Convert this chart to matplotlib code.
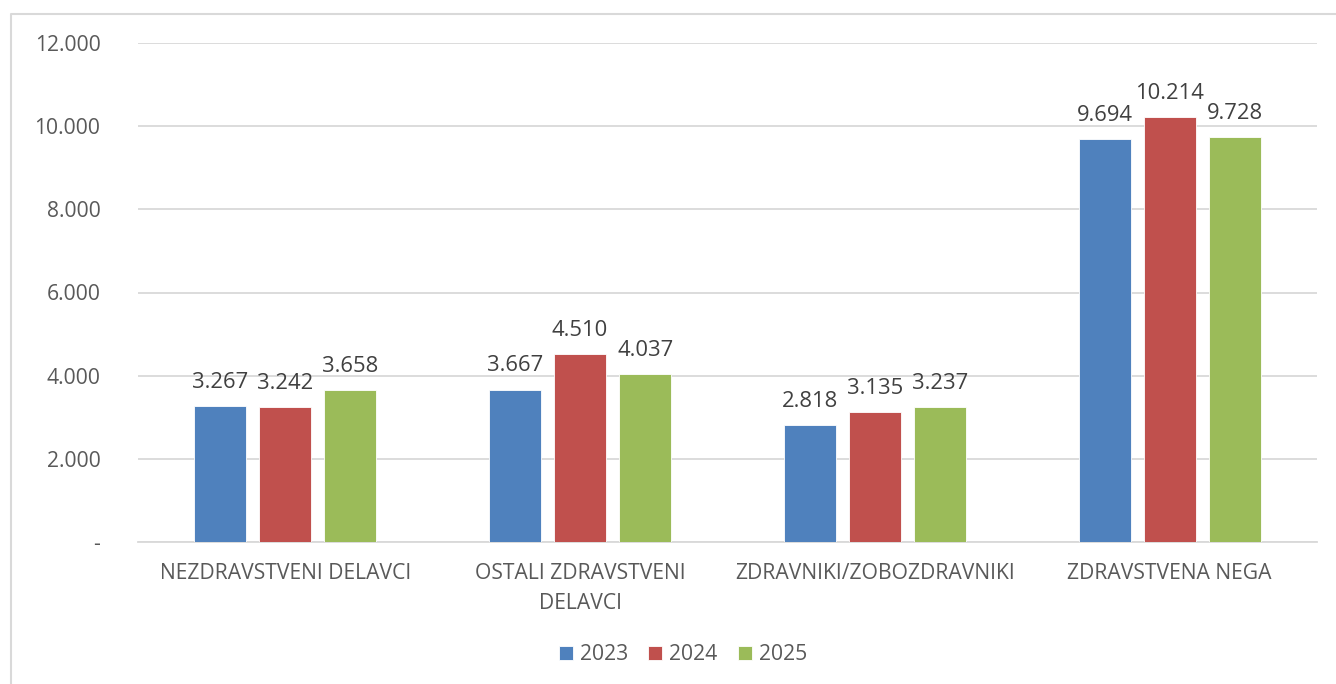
import matplotlib
matplotlib.use("Agg")
import matplotlib.pyplot as plt
from matplotlib.lines import Line2D
from matplotlib.ticker import FuncFormatter
import numpy as np

categories = ["NEZDRAVSTVENI DELAVCI", "OSTALI ZDRAVSTVENI\nDELAVCI",
              "ZDRAVNIKI/ZOBOZDRAVNIKI", "ZDRAVSTVENA NEGA"]
years = ["2023", "2024", "2025"]
v2023 = [3267, 3667, 2818, 9694]
v2024 = [3242, 4510, 3135, 10214]
v2025 = [3658, 4037, 3237, 9728]
series = [v2023, v2024, v2025]
colors = ["#4F81BD", "#C0504D", "#9BBB59"]
yticks = [0, 2000, 4000, 6000, 8000, 10000, 12000]

plt.rcParams['font.family'] = ['Open Sans', 'DejaVu Sans']
txt = "#595959"
fs = 15.2

W, H = 1336, 684
fig = plt.figure(figsize=(W / 100, H / 100), dpi=100)
ax = fig.add_axes([138 / W, 1 - 542 / H, (1317 - 138) / W, (542 - 43) / H])

def fmt(v):
    return "-" if v == 0 else f"{int(v):,}".replace(",", ".")

x = np.arange(len(categories))
bw = 0.1765
step = 0.2206
for i, (vals, c, yr) in enumerate(zip(series, colors, years)):
    pos = x + (i - 1) * step
    bars = ax.bar(pos, vals, width=bw, color=c, label=yr, zorder=3,
                  edgecolor="white", linewidth=0.6)
    for b, v in zip(bars, vals):
        ax.annotate(fmt(v), (b.get_x() + b.get_width() / 2, v),
                    xytext=(0, 13), textcoords="offset points",
                    ha="center", va="baseline", fontsize=15.8, color="#404040")

ax.set_xlim(-0.5, 3.5)
ax.set_ylim(0, 12000)
ax.set_yticks(yticks)
ax.yaxis.set_major_formatter(FuncFormatter(lambda v, p: fmt(v)))
ax.set_xticks(x)
ax.set_xticklabels(categories, linespacing=1.55)
ax.tick_params(axis="both", length=0, labelsize=fs, labelcolor=txt)
ax.tick_params(axis="y", pad=27)
ax.tick_params(axis="x", pad=15)
ax.grid(axis="y", color="#D9D9D9", linewidth=1.3, zorder=0)
for s in ["left", "right", "top"]:
    ax.spines[s].set_visible(False)
ax.spines["bottom"].set_color("#D9D9D9")
ax.spines["bottom"].set_linewidth(1.3)
ax.set_axisbelow(True)

leg = fig.legend(loc="center", bbox_to_anchor=(683 / W, 1 - 655 / H), ncol=3,
                 frameon=False, fontsize=fs, handlelength=0.67, handleheight=0.67,
                 handletextpad=0.33, columnspacing=0.95)
for t in leg.get_texts():
    t.set_color(txt)

border = Line2D([10.5 / W, 10.5 / W, 1], [0, 1 - 14 / H, 1 - 14 / H],
                transform=fig.transFigure, color="#D9D9D9", linewidth=1.5)
fig.add_artist(border)

fig.savefig("out.png", dpi=100)
